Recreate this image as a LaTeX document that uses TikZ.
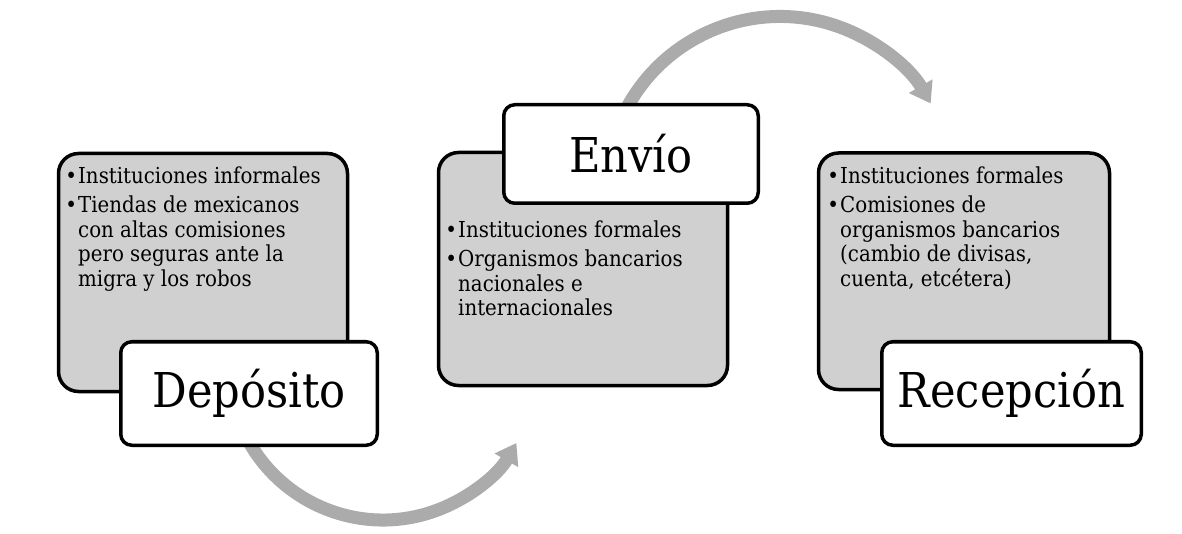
\documentclass[tikz,border=0pt]{standalone}
\usepackage{fontspec}
\setmainfont{DejaVu Serif Condensed}
\usetikzlibrary{arrows.meta}
\definecolor{boxgray}{HTML}{D0D0D0}
\definecolor{arrowgray}{HTML}{ABABAB}
\newcommand\mybul{\makebox[14pt][c]{\textbullet}}
\begin{document}
\begin{tikzpicture}[x=1pt,y=1pt,
  infobox/.style={draw=black, line width=3.5pt, fill=boxgray, rounded corners=20pt, inner sep=0pt, anchor=south west},
  labelbox/.style={draw=black, line width=3.5pt, fill=white, rounded corners=11pt, inner sep=0pt, font=\fontsize{48}{56}\selectfont},
  itemtext/.style={anchor=north west, inner sep=0pt, font=\fontsize{22}{24.5}\selectfont, align=left},
  flow/.style={draw=arrowgray, line width=13pt, -{Triangle[width=26pt,length=20pt]}}]
\useasboundingbox (0,0) rectangle (1182,533);
% arc arrows (behind)
\coordinate (a1c) at (383,167);
\coordinate (a1s) at ([shift={(200:154)}]a1c);
\coordinate (a2c) at (780,342.5);
\coordinate (a2s) at ([shift={(160:174)}]a2c);
\draw[flow] (a1s) arc[start angle=200, end angle=330, radius=154];
\draw[flow] (a2s) arc[start angle=160, end angle=30, radius=174];
% gray boxes
\node[infobox, minimum width=289pt, minimum height=238pt] (b1) at (56.75,139.75) {};
\node[infobox, minimum width=289pt, minimum height=233pt] (b2) at (436.75,145.75) {};
\node[infobox, minimum width=291pt, minimum height=236.5pt] (b3) at (816.75,141.75) {};
% texts
\node[itemtext] (t1) at (64,367) {\begin{tabular}{@{}l@{}l@{}}
\mybul & Instituciones informales\\[5pt]
\mybul & Tiendas de mexicanos\\
 & con altas comisiones\\
 & pero seguras ante la\\
 & migra y los robos
\end{tabular}};
\node[itemtext] (t2) at (444,313) {\begin{tabular}{@{}l@{}l@{}}
\mybul & Instituciones formales\\[5pt]
\mybul & Organismos bancarios\\
 & nacionales e\\
 & internacionales
\end{tabular}};
\node[itemtext] (t3) at (826,367) {\begin{tabular}{@{}l@{}l@{}}
\mybul & Instituciones formales\\[5pt]
\mybul & Comisiones de\\
 & organismos bancarios\\
 & (cambio de divisas,\\
 & cuenta, etcétera)
\end{tabular}};
% label boxes
\node[labelbox, minimum width=256.5pt, minimum height=103.5pt] (l1) at (249,139.5) {Depósito};
\node[labelbox, minimum width=254.5pt, minimum height=98.5pt] (l2) at (631,379) {Envío};
\node[labelbox, minimum width=259.5pt, minimum height=103.5pt] (l3) at (1011.5,139.5) {Recepción};
\end{tikzpicture}
\end{document}
